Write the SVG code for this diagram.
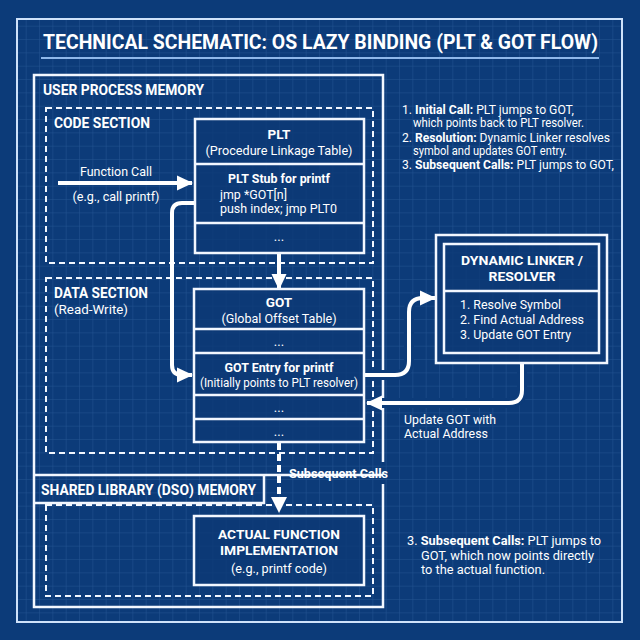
<svg xmlns="http://www.w3.org/2000/svg" width="640" height="640" viewBox="0 0 640 640">
<defs>
<pattern id="grid" width="13.333" height="13.333" patternUnits="userSpaceOnUse">
<path d="M13.333 0 V13.333 M0 13.333 H13.333" fill="none" stroke="#5a8fd0" stroke-opacity="0.3" stroke-width="1"/>
</pattern>
<marker id="ah" markerUnits="userSpaceOnUse" markerWidth="17" markerHeight="17" refX="15" refY="8.5" orient="auto">
<path d="M0,1 L16,8.5 L0,16 Z" fill="#ffffff"/>
</marker>
<style>
text{font-family:Roboto,"Liberation Sans",sans-serif;fill:#ffffff}
.t{font-weight:700;font-size:20px}
.sec{font-weight:700;font-size:14px}
.b{font-weight:700;font-size:13.5px}
.n{font-size:13px}
.s{font-size:12px}
.c{text-anchor:middle}
.node{fill:#0c3a76;fill-opacity:0.8;stroke:#f2f7ff;stroke-width:2.5}
.div{stroke:#f2f7ff;stroke-width:2.5}
.box{fill:none;stroke:#f2f7ff;stroke-width:2.5}
.dash{fill:none;stroke:#f2f7ff;stroke-width:2;stroke-dasharray:6 4}
.con{fill:none;stroke:#ffffff;stroke-width:4}
.halo{fill:none;stroke:#0c3b79;stroke-width:10}
</style>
</defs>
<rect width="640" height="640" fill="#0c3b79"/>
<rect x="17" y="19" width="605" height="603" fill="url(#grid)"/>
<rect x="17" y="19" width="605" height="603" fill="none" stroke="#cfe2fa" stroke-width="2"/>
<g id="title">
<text class="t" x="43" y="49" textLength="555" lengthAdjust="spacingAndGlyphs">TECHNICAL SCHEMATIC: OS LAZY BINDING (PLT &amp; GOT FLOW)</text>
<line x1="41" y1="58" x2="599" y2="58" stroke="#8fb8ea" stroke-width="2"/>
</g>
<g id="regions">
<path class="box" d="M383,462 V75 H34 V607 H383 V484"/>
<line class="box" x1="34" y1="475" x2="383" y2="475"/>
<path class="box" d="M264,475 V503 H34"/>
<text class="sec" x="43" y="95" textLength="161" lengthAdjust="spacingAndGlyphs">USER PROCESS MEMORY</text>
<rect class="dash" x="46" y="108" width="327" height="155"/>
<text class="sec" x="54" y="128" textLength="96" lengthAdjust="spacingAndGlyphs">CODE SECTION</text>
<rect class="dash" x="46" y="278" width="327" height="175"/>
<text class="sec" x="54" y="298" textLength="94" lengthAdjust="spacingAndGlyphs">DATA SECTION</text>
<text class="n" x="54" y="314" textLength="74" lengthAdjust="spacingAndGlyphs">(Read-Write)</text>
<rect class="dash" x="46" y="505" width="327" height="91"/>
<text class="sec" x="41" y="495" textLength="215" lengthAdjust="spacingAndGlyphs">SHARED LIBRARY (DSO) MEMORY</text>
</g>
<g id="connectors">
<path class="halo" d="M364,375 H395 Q409,375 409,361 V312 Q409,298 423,298"/>
<path class="halo" d="M522,365 V390 Q522,403 509,403 H372"/>
<line class="con" x1="58" y1="183" x2="192" y2="183" marker-end="url(#ah)"/>
<line class="con" x1="279" y1="254" x2="279" y2="289" marker-end="url(#ah)"/>
<path class="con" d="M195,203 H182 Q172,203 172,213 V365 Q172,375 182,375 H192" marker-end="url(#ah)"/>
<path class="con" d="M364,375 H395 Q409,375 409,361 V312 Q409,298 423,298 H435" marker-end="url(#ah)"/>
<path class="con" d="M522,364 V390 Q522,403 509,403 H367" marker-end="url(#ah)"/>
<path class="con" d="M279,443 V500" stroke-dasharray="7 4"/>
<path d="M271,497 L287,497 L279,513 Z" fill="#ffffff"/>
<text class="n c" x="116" y="176" textLength="72" lengthAdjust="spacingAndGlyphs">Function Call</text>
<text class="n c" x="116" y="201" textLength="87" lengthAdjust="spacingAndGlyphs">(e.g., call printf)</text>
<text class="n" x="404" y="424" textLength="92" lengthAdjust="spacingAndGlyphs">Update GOT with</text>
<text class="n" x="404" y="438" textLength="84" lengthAdjust="spacingAndGlyphs">Actual Address</text>
<text class="b" x="289" y="478" textLength="99" lengthAdjust="spacingAndGlyphs">Subsequent Calls</text>
</g>
<g id="plt">
<rect class="node" x="195" y="119" width="169" height="134"/>
<line class="div" x1="195" y1="164" x2="364" y2="164"/>
<line class="div" x1="195" y1="223" x2="364" y2="223"/>
<text class="b c" x="279" y="139">PLT</text>
<text class="n c" x="279" y="155" textLength="147" lengthAdjust="spacingAndGlyphs">(Procedure Linkage Table)</text>
<text class="b c" x="279" y="183" textLength="102" lengthAdjust="spacingAndGlyphs">PLT Stub for printf</text>
<text class="n" x="220" y="199" textLength="67" lengthAdjust="spacingAndGlyphs">jmp *GOT[n]</text>
<text class="n" x="220" y="213" textLength="117" lengthAdjust="spacingAndGlyphs">push index; jmp PLT0</text>
<text class="n c" x="279" y="241">...</text>
</g>
<g id="got">
<rect class="node" x="194" y="289" width="170" height="153"/>
<line class="div" x1="194" y1="329" x2="364" y2="329"/>
<line class="div" x1="194" y1="353" x2="364" y2="353"/>
<line class="div" x1="194" y1="395" x2="364" y2="395"/>
<line class="div" x1="194" y1="419" x2="364" y2="419"/>
<text class="b c" x="279" y="307">GOT</text>
<text class="n c" x="279" y="323" textLength="115" lengthAdjust="spacingAndGlyphs">(Global Offset Table)</text>
<text class="n c" x="279" y="346">...</text>
<text class="b c" x="279" y="372" textLength="109" lengthAdjust="spacingAndGlyphs">GOT Entry for printf</text>
<text class="n c" x="279" y="387" textLength="158" lengthAdjust="spacingAndGlyphs">(Initially points to PLT resolver)</text>
<text class="n c" x="279" y="412">...</text>
<text class="n c" x="279" y="436">...</text>
</g>
<g id="linker">
<rect class="node" x="436" y="235" width="171" height="128"/>
<rect class="box" x="444" y="244" width="155" height="109"/>
<line class="div" x1="444" y1="291" x2="599" y2="291"/>
<text class="b c" x="522" y="265" textLength="122" lengthAdjust="spacingAndGlyphs">DYNAMIC LINKER /</text>
<text class="b c" x="522" y="281" textLength="67" lengthAdjust="spacingAndGlyphs">RESOLVER</text>
<text class="n" x="460" y="309" textLength="101" lengthAdjust="spacingAndGlyphs">1. Resolve Symbol</text>
<text class="n" x="460" y="324" textLength="124" lengthAdjust="spacingAndGlyphs">2. Find Actual Address</text>
<text class="n" x="460" y="339" textLength="111" lengthAdjust="spacingAndGlyphs">3. Update GOT Entry</text>
</g>
<g id="actual">
<rect class="node" x="194" y="516" width="170" height="69"/>
<text class="b c" x="279" y="539" textLength="122" lengthAdjust="spacingAndGlyphs">ACTUAL FUNCTION</text>
<text class="b c" x="279" y="555" textLength="118" lengthAdjust="spacingAndGlyphs">IMPLEMENTATION</text>
<text class="n c" x="279" y="573" textLength="96" lengthAdjust="spacingAndGlyphs">(e.g., printf code)</text>
</g>
<g id="notes">
<text class="s" x="402" y="114" textLength="172" lengthAdjust="spacingAndGlyphs">1. <tspan font-weight="700">Initial Call:</tspan> PLT jumps to GOT,</text>
<text class="s" x="413" y="127" textLength="171" lengthAdjust="spacingAndGlyphs">which points back to PLT resolver.</text>
<text class="s" x="402" y="142" textLength="208" lengthAdjust="spacingAndGlyphs">2. <tspan font-weight="700">Resolution:</tspan> Dynamic Linker resolves</text>
<text class="s" x="413" y="155" textLength="154" lengthAdjust="spacingAndGlyphs">symbol and updates GOT entry.</text>
<text class="s" x="402" y="169" textLength="212" lengthAdjust="spacingAndGlyphs">3. <tspan font-weight="700">Subsequent Calls:</tspan> PLT jumps to GOT,</text>
<text class="s" x="407" y="545" textLength="194" lengthAdjust="spacingAndGlyphs">3. <tspan font-weight="700">Subsequent Calls:</tspan> PLT jumps to</text>
<text class="s" x="421" y="560" textLength="173" lengthAdjust="spacingAndGlyphs">GOT, which now points directly</text>
<text class="s" x="421" y="574" textLength="124" lengthAdjust="spacingAndGlyphs">to the actual function.</text>
</g>
</svg>
